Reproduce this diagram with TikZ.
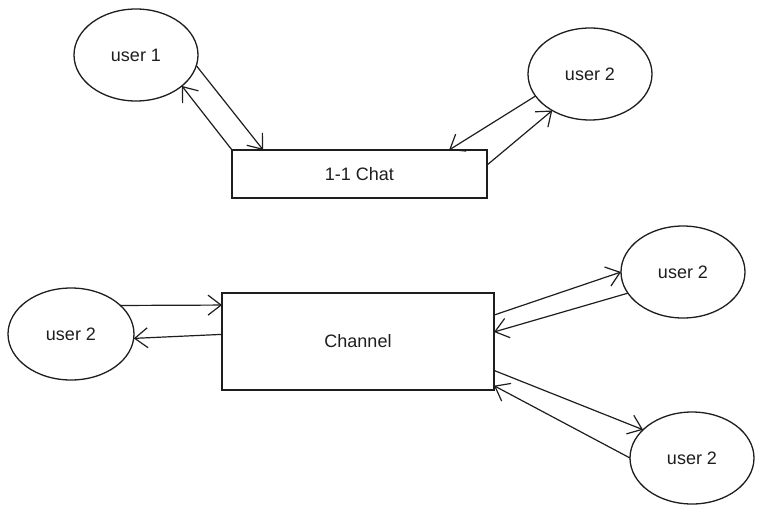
\documentclass[tikz,border=0pt]{standalone}
\usepackage{fontspec}
\setmainfont{Liberation Sans}
\usetikzlibrary{shapes.geometric,arrows.meta}
\definecolor{ink}{HTML}{1E1E1E}
\begin{document}
\begin{tikzpicture}[x=1pt,y=-1pt,
  base/.style={draw=ink, text=ink, line width=1.3pt, outer sep=0pt, inner sep=0pt,
    font=\fontsize{18}{21}\selectfont},
  user/.style={base, ellipse, minimum width=124pt, minimum height=92pt},
  box/.style={base, rectangle},
  conn/.style={draw=ink, line width=1.2pt,
    -{Straight Barb[length=13pt,width=20pt,line width=1.2pt]}}]
\useasboundingbox (0,0) rectangle (765,512);
\fill[white] (0,0) rectangle (765,512);

\node[user] (u1) at (136,55) {user 1};
\node[user] (u2a) at (590,74) {user 2};
\node[box, minimum width=255pt, minimum height=48pt] (chat) at (359.5,174) {1-1 Chat};

\node[box, minimum width=272pt, minimum height=97pt] (chan) at (358,341.5) {Channel};
\node[user, minimum width=126pt] (u2l) at (71,334) {user 2};
\node[user] (u2t) at (683,272) {user 2};
\node[user] (u2b) at (692,458) {user 2};

\draw[conn] (u1.-10) -- (chat.166);
\draw[conn] (chat.north west) -- (u1.-34);
\draw[conn] (u2a.202) -- (chat.15);
\draw[conn] (chat.4) -- (u2a.224);

\draw[conn] (u2l.30) -- (chan.165);
\draw[conn] (chan.177) -- (u2l.-4);
\draw[conn] (chan.11) -- (u2t.180);
\draw[conn] (u2t.201) -- (chan.4);
\draw[conn] (chan.-12) -- (u2b.150);
\draw[conn] (u2b.180) -- (chan.-18);
\end{tikzpicture}
\end{document}
